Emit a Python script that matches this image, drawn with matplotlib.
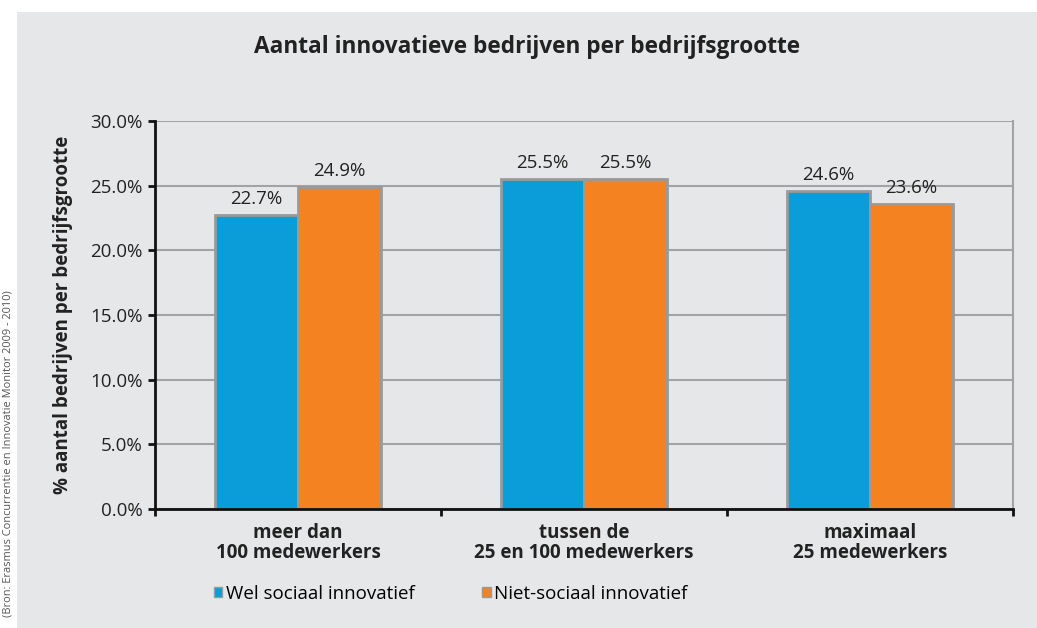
import numpy as np
import matplotlib.pyplot as plt
from matplotlib.patches import Rectangle, Patch

# data
categories = ['meer dan\n100 medewerkers', 'tussen de\n25 en 100 medewerkers', 'maximaal\n25 medewerkers']
wel_sociaal = [22.7, 25.5, 24.6]
niet_sociaal = [24.9, 25.5, 23.6]
series_names = ['Wel sociaal innovatief', 'Niet-sociaal innovatief']
y_ticks = [0, 5, 10, 15, 20, 25, 30]

blauw = '#0a9dd9'
oranje = '#f58220'
grijs_rand = '#9a9a9a'
achtergrond = '#e6e7e8'

plt.rcParams['font.family'] = ['Open Sans', 'DejaVu Sans']

fig = plt.figure(figsize=(10.37, 6.28), dpi=100)
fig.patch.set_facecolor('white')
fig.patches.append(Rectangle((17 / 1037, 0), 1, 1 - 12 / 628, transform=fig.transFigure,
                             facecolor=achtergrond, edgecolor='none', zorder=-5))

ax = fig.add_axes([155 / 1037, (628 - 509) / 628, (1013 - 155) / 1037, (509 - 121) / 628])
ax.set_facecolor(achtergrond)

x = np.arange(len(categories))
w = 0.29
b1 = ax.bar(x - w / 2, wel_sociaal, w, color=blauw, edgecolor=grijs_rand, linewidth=2, zorder=3)
b2 = ax.bar(x + w / 2, niet_sociaal, w, color=oranje, edgecolor=grijs_rand, linewidth=2, zorder=3)

# waardelabels boven de staven
for bars, vals in ((b1, wel_sociaal), (b2, niet_sociaal)):
    for r, v in zip(bars, vals):
        ax.annotate(f'{v:.1f}%', (r.get_x() + r.get_width() / 2, v), xytext=(0, 5),
                    textcoords='offset points', ha='center', va='bottom', fontsize=13.5, color='#222222')

ax.set_ylim(0, 30)
ax.set_xlim(-0.5, 2.5)
ax.set_yticks(y_ticks)
ax.set_yticklabels([f'{t:.1f}%' for t in y_ticks], fontsize=13.5, color='#222222')
ax.yaxis.grid(True, color='#a3a3a5', linewidth=1.5, zorder=0)
ax.set_axisbelow(True)

ax.set_xticks(x)
ax.set_xticklabels(categories, fontsize=13.5, fontweight='bold', color='#222222', linespacing=1.0)
ax.tick_params(axis='x', length=0, pad=10)
ax.set_xticks([-0.5, 0.5, 1.5, 2.5], minor=True)
ax.tick_params(axis='x', which='minor', length=5, width=2, color='#111111', direction='out')
ax.tick_params(axis='y', length=5, width=2, color='#111111', direction='out', pad=4)

for s in ('left', 'bottom'):
    ax.spines[s].set_color('#111111')
    ax.spines[s].set_linewidth(2)
    ax.spines[s].set_zorder(4)
ax.spines['right'].set_color('#a3a3a5')
ax.spines['right'].set_linewidth(1.5)
ax.spines['top'].set_visible(False)

ax.set_ylabel('% aantal bedrijven per bedrijfsgrootte', fontsize=13.5, fontweight='bold',
              color='#222222', labelpad=12)

fig.text(527 / 1037, 1 - 47 / 628, 'Aantal innovatieve bedrijven per bedrijfsgrootte',
         ha='center', va='center', fontsize=16.3, fontweight='bold', color='#222222')

handles = [Patch(facecolor=blauw, edgecolor=grijs_rand, linewidth=1),
           Patch(facecolor=oranje, edgecolor=grijs_rand, linewidth=1)]
fig.legend(handles, series_names, loc='center left', bbox_to_anchor=(197 / 1037, 1 - 594 / 628),
           ncol=2, frameon=False, fontsize=13.5, handlelength=0.45, handleheight=0.45,
           handletextpad=0.2, columnspacing=3.6)

# bronvermelding langs de linkerrand
fig.text(8 / 1037, 1 - 290 / 628, '(Bron: Erasmus Concurrentie en Innovatie Monitor 2009 - 2010)',
         rotation=90, ha='center', va='top', fontsize=7.9, color='#555555')

fig.savefig('out.png', dpi=100, facecolor=fig.get_facecolor())
